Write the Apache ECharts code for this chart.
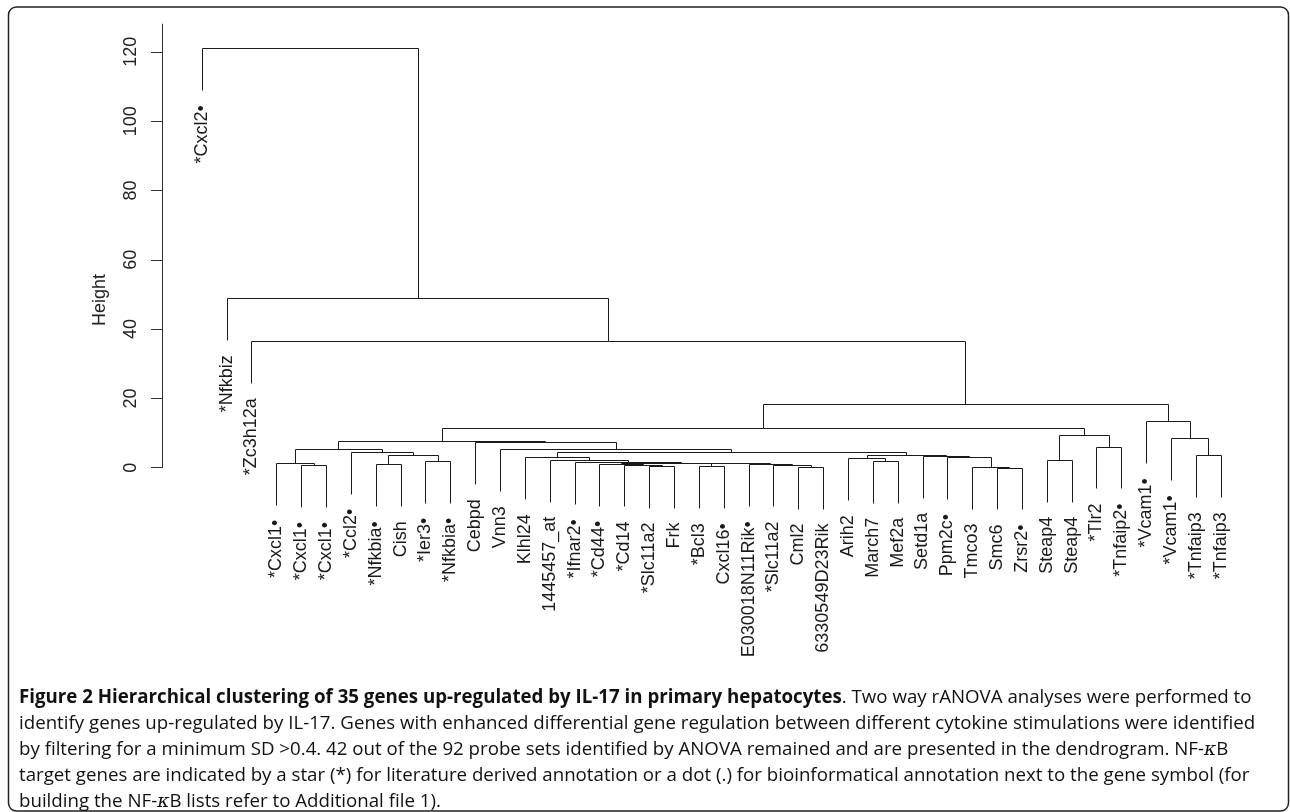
<!DOCTYPE html>
<html><head><meta charset="utf-8">
<script src="https://cdn.jsdelivr.net/npm/echarts@6/dist/echarts.min.js"></script>
<style>html,body{margin:0;padding:0;background:#fff}#c{width:1290px;height:812px}</style>
</head><body><div id="c"></div>
<script>
// ---- data ----
const leafLabels = ["*Cxcl2•","*Nfkbiz","*Zc3h12a","*Cxcl1•","*Cxcl1•","*Cxcl1•","*Ccl2•","*Nfkbia•","Cish","*Ier3•","*Nfkbia•","Cebpd","Vnn3","Klhl24","1445457_at","*Ifnar2•","*Cd44•","*Cd14","*Slc11a2","Frk","*Bcl3","Cxcl16•","E030018N11Rik•","*Slc11a2","Cml2","6330549D23Rik","Arih2","March7","Mef2a","Setd1a","Ppm2c•","Tmco3","Smc6","Zrsr2•","Steap4","Steap4","*Tlr2","*Tnfaip2•","*Vcam1•","*Vcam1•","*Tnfaip3","*Tnfaip3"];
// hclust-style merges: negative = leaf (1-based, plotted order), positive = earlier merge (1-based)
const mergeLeft  = [-33,-32,-25,-21,-19,-5,-24,-18,-8,-23,-17,4,11,-4,-16,-10,-28,-15,-35,-27,-14,-31,-30,-41,20,9,21,-7,-13,14,-37,-12,30,-40,19,33,-39,36,-3,-2,-1];
const mergeRight = [-34,1,-26,-22,-20,-6,3,5,-9,7,8,10,12,6,13,-11,-29,15,-36,17,18,2,22,-42,23,16,25,26,27,28,-38,29,32,24,31,35,34,37,38,39,40];
const mergeHeight = [0.05,0.3,0.3,0.4,0.6,0.8,0.9,0.9,1.0,1.0,1.1,1.3,1.35,1.45,1.55,2.0,2.0,2.3,2.3,2.7,3.0,3.1,3.4,3.6,3.65,3.7,4.4,4.6,5.3,5.4,6.1,7.3,7.7,8.5,9.4,11.5,13.4,18.3,36.5,48.9,121.0];
const yTicks = [0,20,40,60,80,100,120];
const yTitle = "Height";
const captionLines = [
  "{b|Figure 2 Hierarchical clustering of 35 genes up-regulated by IL-17 in primary hepatocytes}{r|. Two way rANOVA analyses were performed to}",
  "{r|identify genes up-regulated by IL-17. Genes with enhanced differential gene regulation between different cytokine stimulations were identified}",
  "{r|by filtering for a minimum SD >0.4. 42 out of the 92 probe sets identified by ANOVA remained and are presented in the dendrogram. NF-}{k|κ}{r|B}",
  "{r|target genes are indicated by a star (*) for literature derived annotation or a dot (.) for bioinformatical annotation next to the gene symbol (for}",
  "{r|building the NF-}{k|κ}{r|B lists refer to Additional file 1).}"
];

// ---- build dendrogram segments ----
const hang = 0.1 * (Math.max(...mergeHeight) - Math.min(...mergeHeight));
const nodeX = [];
const segs = [];
const leafBottom = new Array(leafLabels.length);
function childX(c) { return c < 0 ? -c : nodeX[c - 1]; }
function childTop(c, h) {
  if (c < 0) { leafBottom[-c - 1] = h - hang; return h - hang; }
  return mergeHeight[c - 1];
}
mergeHeight.forEach((h, k) => {
  const a = mergeLeft[k], b = mergeRight[k];
  const xa = childX(a), xb = childX(b);
  nodeX.push((xa + xb) / 2);
  segs.push([xa, childTop(a, h), xa, h]);
  segs.push([xa, h, xb, h]);
  segs.push([xb, h, xb, childTop(b, h)]);
});
const labelData = leafLabels.map((l, i) => [i + 1, leafBottom[i]]);
const X_MIN = -0.6, X_MAX = 43;
const tickData = yTicks.map(v => [X_MIN, v]);

const px = v => Math.round(v) + 0.5;
const capFontFamily = '"Open Sans", "Noto Sans", sans-serif';
const capSize = 18.7;
const leafFont = '"Liberation Sans", Arial, sans-serif';

const chart = echarts.init(document.getElementById('c'), null, { renderer: 'canvas' });
const graphics = [
  { type: 'rect', shape: { x: 8.5, y: 7, width: 1280, height: 804, r: 8 },
    style: { fill: 'none', stroke: '#222', lineWidth: 1.5 }, silent: true },
  { type: 'text', x: 100, y: 300, rotation: Math.PI / 2,
    style: { text: yTitle, fill: '#222', fontSize: 18, fontFamily: leafFont, align: 'center', verticalAlign: 'middle' } }
];
captionLines.forEach((t, i) => {
  graphics.push({
    type: 'text', x: 19, y: 698 + i * 26,
    style: {
      text: t, fill: '#111', align: 'left', verticalAlign: 'middle',
      fontSize: capSize, fontFamily: capFontFamily,
      rich: {
        b: { fontWeight: 'bold', fontSize: capSize, fontFamily: capFontFamily, fill: '#111' },
        r: { fontWeight: 'normal', fontSize: capSize, fontFamily: capFontFamily, fill: '#111' },
        k: { fontStyle: 'italic', fontSize: capSize, fontFamily: '"DejaVu Serif", serif', fill: '#111' }
      }
    }
  });
});

chart.setOption({
  animation: false,
  backgroundColor: '#fff',
  grid: { left: 162, right: 44.4, top: 24.1, bottom: 344.3, containLabel: false },
  xAxis: { type: 'value', min: X_MIN, max: X_MAX, show: false },
  yAxis: {
    type: 'value', min: 0, max: 128,
    axisLine: { show: true, onZero: false, lineStyle: { color: '#333', width: 1 } },
    axisTick: { show: true, length: 11, lineStyle: { color: '#333' }, customValues: yTicks },
    axisLabel: { show: false },
    splitLine: { show: false }
  },
  graphic: graphics,
  series: [
    {
      type: 'custom', data: segs, clip: false, silent: true,
      encode: { x: [0, 2], y: [1, 3] },
      renderItem: (params, api) => {
        const p1 = api.coord([api.value(0), api.value(1)]);
        const p2 = api.coord([api.value(2), api.value(3)]);
        return { type: 'line', shape: { x1: px(p1[0]), y1: px(p1[1]), x2: px(p2[0]), y2: px(p2[1]) },
          style: { stroke: '#1a1a1a', lineWidth: 1 } };
      }
    },
    {
      type: 'custom', data: labelData, clip: false, silent: true,
      encode: { x: 0, y: 1 },
      renderItem: (params, api) => {
        const p = api.coord([api.value(0), api.value(1)]);
        return { type: 'text', x: p[0], y: p[1] + 15, rotation: Math.PI / 2,
          style: { text: leafLabels[params.dataIndex], fill: '#1a1a1a', fontSize: 18, fontFamily: leafFont,
            align: 'right', verticalAlign: 'middle' } };
      }
    },
    {
      type: 'custom', data: tickData, clip: false, silent: true,
      encode: { x: 0, y: 1 },
      renderItem: (params, api) => {
        const p = api.coord([api.value(0), api.value(1)]);
        return { type: 'text', x: p[0] - 31, y: p[1], rotation: Math.PI / 2,
          style: { text: String(yTicks[params.dataIndex]), fill: '#222', fontSize: 18, fontFamily: leafFont,
            align: 'center', verticalAlign: 'middle' } };
      }
    }
  ]
});
</script>
</body></html>
